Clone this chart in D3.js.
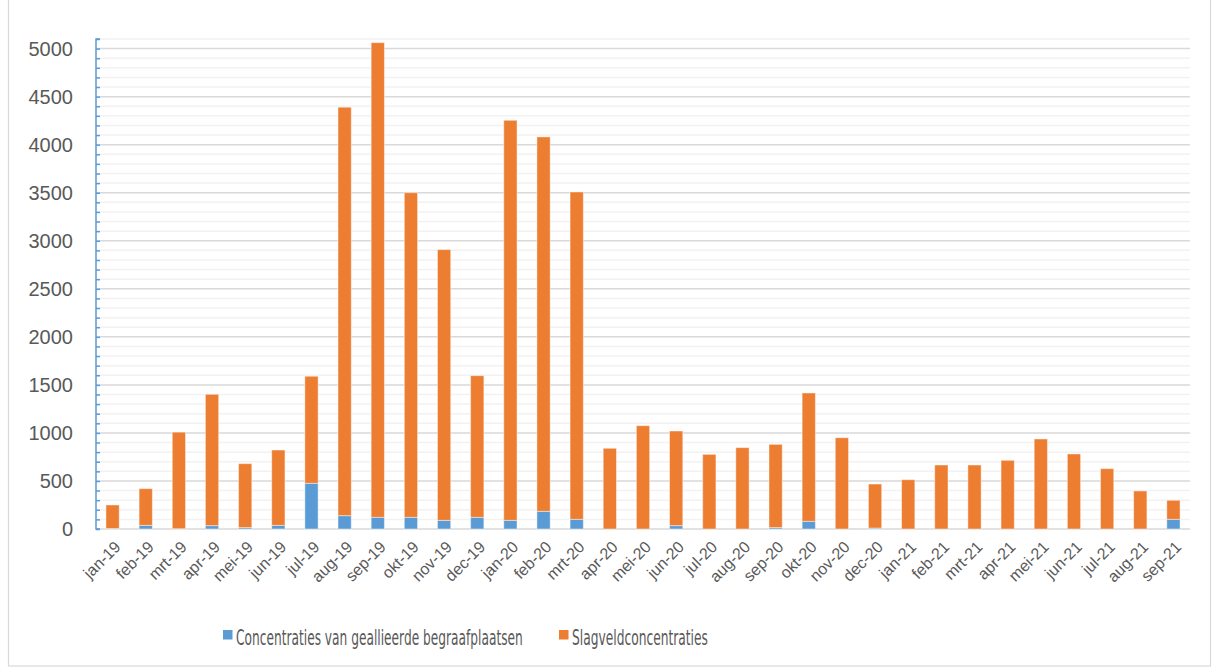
<!DOCTYPE html>
<html>
<head>
<meta charset="utf-8">
<script src="https://cdn.jsdelivr.net/npm/d3@7"></script>
<style>
  html, body { margin: 0; padding: 0; background: #fff; }
  svg { display: block; }
</style>
</head>
<body>
<svg id="chart" width="1214" height="670"></svg>
<script>
// Monthly categories
const months = [
  "jan-19","feb-19","mrt-19","apr-19","mei-19","jun-19","jul-19","aug-19","sep-19","okt-19","nov-19","dec-19",
  "jan-20","feb-20","mrt-20","apr-20","mei-20","jun-20","jul-20","aug-20","sep-20","okt-20","nov-20","dec-20",
  "jan-21","feb-21","mrt-21","apr-21","mei-21","jun-21","jul-21","aug-21","sep-21"
];

// Concentrations of allied cemeteries (bottom segment)
const allied = [
  5, 38, 3, 35, 15, 38, 476, 139, 122, 122, 90, 122,
  90, 184, 101, 0, 0, 35, 0, 0, 15, 80, 0, 10,
  0, 0, 0, 0, 0, 0, 0, 0, 101
];

// Battlefield concentrations (stacked on top)
const battlefield = [
  245, 382, 1005, 1367, 665, 784, 1114, 4251, 4940, 3378, 2818, 1474,
  4164, 3897, 3407, 840, 1075, 985, 777, 847, 866, 1336, 950, 458,
  513, 666, 666, 715, 937, 781, 628, 396, 198
];

const seriesNames = ["Concentraties van geallieerde begraafplaatsen", "Slagveldconcentraties"];
const seriesColors = ["#5b9bd5", "#ed7d31"];
const yTicks = [0, 500, 1000, 1500, 2000, 2500, 3000, 3500, 4000, 4500, 5000];

const svg = d3.select("#chart");
const plot = { left: 96, right: 1190, top: 39, bottom: 529 };

// Outer chart frame
svg.append("rect")
  .attr("x", 8.5).attr("y", -1)
  .attr("width", 1202).attr("height", 667)
  .attr("fill", "#fff").attr("stroke", "#d9d9d9").attr("stroke-width", 1.2);

const x = d3.scaleBand().domain(months).range([plot.left, plot.right]).paddingInner(0.6).paddingOuter(0.3);
const y = d3.scaleLinear().domain([0, 5100]).range([plot.bottom, plot.top]);

// Gridlines: minor every 100, major every 500
const minor = d3.range(100, 5101, 100).filter(v => v % 500 !== 0);
svg.append("g").selectAll("line").data(minor).join("line")
  .attr("x1", plot.left).attr("x2", plot.right)
  .attr("y1", d => y(d)).attr("y2", d => y(d))
  .attr("stroke", "#f2f2f2").attr("stroke-width", 1.5);
svg.append("g").selectAll("line").data(yTicks.filter(v => v > 0)).join("line")
  .attr("x1", plot.left).attr("x2", plot.right)
  .attr("y1", d => y(d)).attr("y2", d => y(d))
  .attr("stroke", "#d9d9d9").attr("stroke-width", 1.5);

// Baseline
svg.append("line")
  .attr("x1", plot.left).attr("x2", plot.right)
  .attr("y1", y(0)).attr("y2", y(0))
  .attr("stroke", "#d9d9d9").attr("stroke-width", 1.5);

// Stacked bars
const table = months.map((m, i) => ({ month: m, allied: allied[i], battlefield: battlefield[i] }));
const stack = d3.stack().keys(["allied", "battlefield"]);
const layers = stack(table);

svg.append("g").selectAll("g").data(layers).join("g")
  .attr("fill", (d, i) => seriesColors[i])
  .selectAll("rect").data(d => d).join("rect")
  .attr("x", d => x(d.data.month))
  .attr("width", x.bandwidth())
  .attr("y", d => y(d[1]))
  .attr("height", d => Math.max(0, y(d[0]) - y(d[1])))
  .attr("stroke", "rgba(255,255,255,0.45)")
  .attr("stroke-width", 1);

// Vertical value axis (blue) with minor tick marks
const yAxis = d3.axisRight(y)
  .tickValues(d3.range(0, 5101, 100))
  .tickSize(4)
  .tickFormat("");
const ga = svg.append("g").attr("transform", `translate(${plot.left},0)`).call(yAxis);
ga.selectAll("path, line").attr("stroke", "#5b9bd5").attr("stroke-width", 1.5);
ga.select(".domain").attr("d", `M4,${y(5100)}H0V${y(0)}H4`);

// Value labels
svg.append("g").selectAll("text").data(yTicks).join("text")
  .attr("x", 73).attr("y", d => y(d))
  .attr("dy", "0.36em")
  .attr("text-anchor", "end")
  .attr("font-family", "Liberation Sans, Arial, sans-serif")
  .attr("font-size", 20)
  .attr("fill", "#595959")
  .text(d => d);

// Category labels rotated -45°
svg.append("g").selectAll("text").data(months).join("text")
  .attr("transform", d => `translate(${x(d) + x.bandwidth() / 2 + 5},${544}) rotate(-45)`)
  .attr("text-anchor", "end")
  .attr("dy", "0.35em")
  .attr("font-family", "Liberation Sans, Arial, sans-serif")
  .attr("font-size", 16)
  .attr("fill", "#595959")
  .text(d => d);

// Legend: narrow text fitted horizontally to its slot
const legendItems = [
  { name: seriesNames[0], color: seriesColors[0], x: 223, w: 287 },
  { name: seriesNames[1], color: seriesColors[1], x: 559, w: 136 }
];
const lg = svg.append("g");
legendItems.forEach(item => {
  lg.append("rect")
    .attr("x", item.x).attr("y", 630)
    .attr("width", 9.5).attr("height", 9.5)
    .attr("fill", item.color);
  const tx = item.x + 13;
  const t = lg.append("text")
    .attr("x", 0).attr("y", 0)
    .attr("dy", "0.36em")
    .attr("font-family", "DejaVu Sans Condensed, Liberation Sans, Arial, sans-serif")
    .attr("font-stretch", "condensed")
    .attr("font-size", 22)
    .attr("fill", "#595959")
    .text(item.name);
  const natural = t.node().getComputedTextLength();
  const sx = item.w / natural;
  t.attr("transform", `translate(${tx},${637}) scale(${sx},1)`);
});
</script>
</body>
</html>
